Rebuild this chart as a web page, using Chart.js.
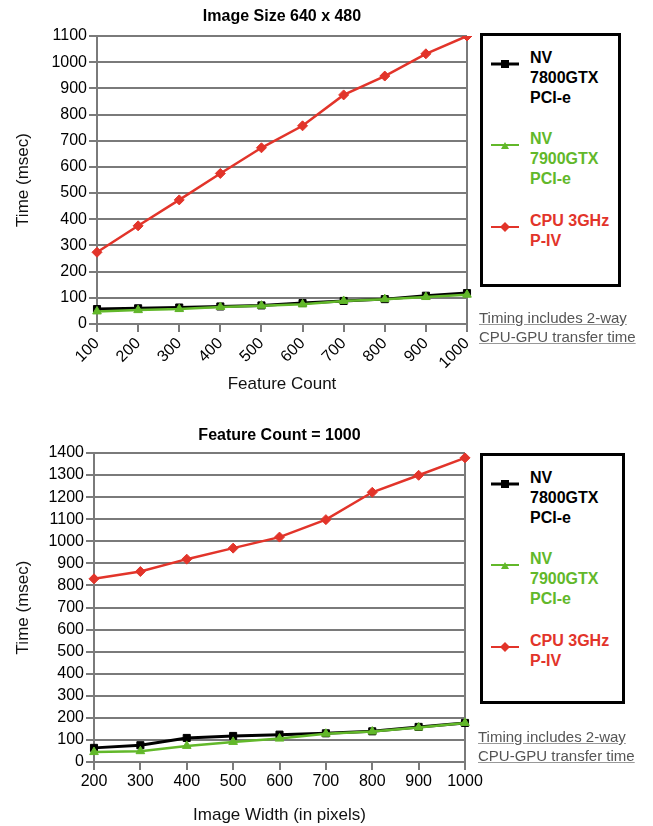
<!DOCTYPE html>
<html>
<head>
<meta charset="utf-8">
<script src="https://cdn.jsdelivr.net/npm/chart.js@4/dist/chart.umd.min.js"></script>
<style>
  body { margin: 0; background: #fff; font-family: "Liberation Sans", Arial, sans-serif; }
  #page { position: relative; width: 653px; height: 826px; }
  .wrap { position: absolute; left: 0; width: 653px; }
  .legend { position: absolute; border: 3px solid #000; box-sizing: border-box; background: #fff; }
  .item { position: absolute; left: 8px; font-weight: bold; font-size: 16px; line-height: 20px; }
  .item svg { position: absolute; left: 0; top: 4px; }
  .item span { position: absolute; left: 39px; top: -6px; white-space: nowrap; }
  .note { position: absolute; font-size: 15px; line-height: 19px; color: #555; }
  .note div { text-decoration: underline; text-decoration-color: #999; }
</style>
</head>
<body>
<div id="page">
  <div class="wrap" style="top:0;height:410px"><canvas id="chartTop" width="653" height="410"></canvas></div>
  <div class="wrap" style="top:420px;height:406px"><canvas id="chartBottom" width="653" height="406"></canvas></div>
  <div class="legend" id="legTop" style="left:480px;top:33px;width:141px;height:254px"></div>
  <div class="legend" id="legBottom" style="left:480px;top:453px;width:145px;height:251px"></div>
  <div class="note" style="left:479px;top:308px"><div>Timing includes 2-way</div><div>CPU-GPU transfer time</div></div>
  <div class="note" style="left:478px;top:727px"><div>Timing includes 2-way</div><div>CPU-GPU transfer time</div></div>
</div>
<script>
// donnees
const featureCount = ["100", "200", "300", "400", "500", "600", "700", "800", "900", "1000"]
const nv7800Feat = [57, 60, 63, 67, 71, 80, 88, 95, 108, 118]
const nv7900Feat = [48, 53, 57, 65, 70, 75, 88, 95, 103, 112]
const cpuFeat = [274, 375, 474, 575, 673, 757, 875, 947, 1032, 1100]

const imageWidth = ["200", "300", "400", "500", "600", "700", "800", "900", "1000"]
const nv7800Width = [64, 76, 109, 118, 124, 130, 139, 159, 177]
const nv7900Width = [45, 49, 73, 91, 106, 128, 138, 156, 177]
const cpuWidth = [830, 863, 919, 969, 1019, 1098, 1222, 1299, 1378]

const seriesNames = [["NV", "7800GTX", "PCI-e"], ["NV", "7900GTX", "PCI-e"], ["CPU 3GHz", "P-IV"]]
const seriesColors = ["#000000", "#62b82a", "#e2342a"]
const seriesMarkers = ["rect", "triangle", "rectRot"]

const FONT = "'Liberation Sans', Arial, sans-serif"

// titre centre sur la zone du graphique
const centerTitle = {
  id: "centerTitle",
  afterDraw(chart, args, opts) {
    const { ctx, chartArea } = chart
    ctx.save()
    ctx.font = "bold 16px " + FONT
    ctx.fillStyle = "#000"
    ctx.textAlign = "center"
    ctx.textBaseline = "middle"
    ctx.fillText(opts.text, (chartArea.left + chartArea.right) / 2, chartArea.top - opts.gap)
    ctx.restore()
  },
}

function makeDatasets(a, b, c) {
  return [a, b, c].map((d, i) => ({
    label: seriesNames[i].join(" "),
    data: d,
    borderColor: seriesColors[i],
    backgroundColor: seriesColors[i],
    borderWidth: i === 0 ? 3 : 2.5,
    pointStyle: seriesMarkers[i],
    pointRadius: 5,
    pointBorderWidth: 1,
    tension: 0,
    order: 3 - i,
  }))
}

function makeChart(id, labels, datasets, cfg) {
  return new Chart(document.getElementById(id), {
    type: "line",
    data: { labels: labels, datasets: datasets },
    plugins: [centerTitle],
    options: {
      responsive: false,
      animation: false,
      layout: { padding: { top: cfg.top, right: cfg.right, left: 0, bottom: 0 } },
      plugins: {
        legend: { display: false },
        tooltip: { enabled: false },
        centerTitle: { text: cfg.title, gap: cfg.gap },
      },
      scales: {
        x: {
          type: "category",
          offset: false,
          grid: {
            color: (c) => (c.index === labels.length - 1 ? "#7a7a7a" : "transparent"),
            tickColor: "#7a7a7a",
            tickLength: 8,
            lineWidth: 2,
          },
          border: { color: "#7a7a7a", width: 2 },
          ticks: {
            color: "#000",
            font: { family: FONT, size: 16 },
            maxRotation: cfg.rot,
            minRotation: cfg.rot,
            autoSkip: false,
            padding: 2,
          },
          title: {
            display: true,
            text: cfg.xTitle,
            color: "#111",
            font: { family: FONT, size: 17 },
            padding: { top: 0, bottom: cfg.xTitlePad },
          },
          afterFit: (s) => { s.height = cfg.xHeight },
        },
        y: {
          min: 0,
          max: cfg.yMax,
          grid: { color: "#7a7a7a", lineWidth: 2, tickLength: 8 },
          border: { color: "#7a7a7a", width: 2 },
          ticks: {
            stepSize: 100,
            autoSkip: false,
            color: "#000",
            font: { family: FONT, size: 16 },
            padding: 2,
            callback: (v) => String(v),
          },
          title: {
            display: true,
            text: "Time (msec)",
            color: "#111",
            font: { family: FONT, size: 17 },
            padding: { top: 13, bottom: 0 },
          },
          afterFit: (s) => { s.width = cfg.yWidth },
        },
      },
    },
  })
}

const topChart = makeChart("chartTop", featureCount, makeDatasets(nv7800Feat, nv7900Feat, cpuFeat), {
  title: "Image Size 640 x 480", gap: 19, top: 36, right: 186, yWidth: 97, xHeight: 86,
  yMax: 1100, rot: 45, xTitle: "Feature Count", xTitlePad: 15,
})
const bottomChart = makeChart("chartBottom", imageWidth, makeDatasets(nv7800Width, nv7900Width, cpuWidth), {
  title: "Feature Count = 1000", gap: 17, top: 33, right: 188, yWidth: 94, xHeight: 64,
  yMax: 1400, rot: 0, xTitle: "Image Width (in pixels)", xTitlePad: 0,
})

// LEGENDE
function markerSvg(i) {
  const c = seriesColors[i]
  let m = ""
  if (seriesMarkers[i] === "rect") m = `<rect x="10" y="2" width="8" height="8" fill="${c}"/>`
  if (seriesMarkers[i] === "triangle") m = `<polygon points="14,3 18,10 10,10" fill="${c}"/>`
  if (seriesMarkers[i] === "rectRot") m = `<polygon points="14,1 19,6 14,11 9,6" fill="${c}"/>`
  return `<svg width="30" height="12"><line x1="0" y1="6" x2="28" y2="6" stroke="${c}" stroke-width="${i === 0 ? 3 : 2}"/>${m}</svg>`
}

function buildLegend(id) {
  const box = document.getElementById(id)
  const tops = [18, 99, 181]
  seriesNames.forEach((lines, i) => {
    const el = document.createElement("div")
    el.className = "item"
    el.style.top = tops[i] + "px"
    el.style.color = seriesColors[i]
    el.innerHTML = markerSvg(i) + `<span>${lines.join("<br>")}</span>`
    box.appendChild(el)
  })
}
buildLegend("legTop")
buildLegend("legBottom")
</script>
</body>
</html>
